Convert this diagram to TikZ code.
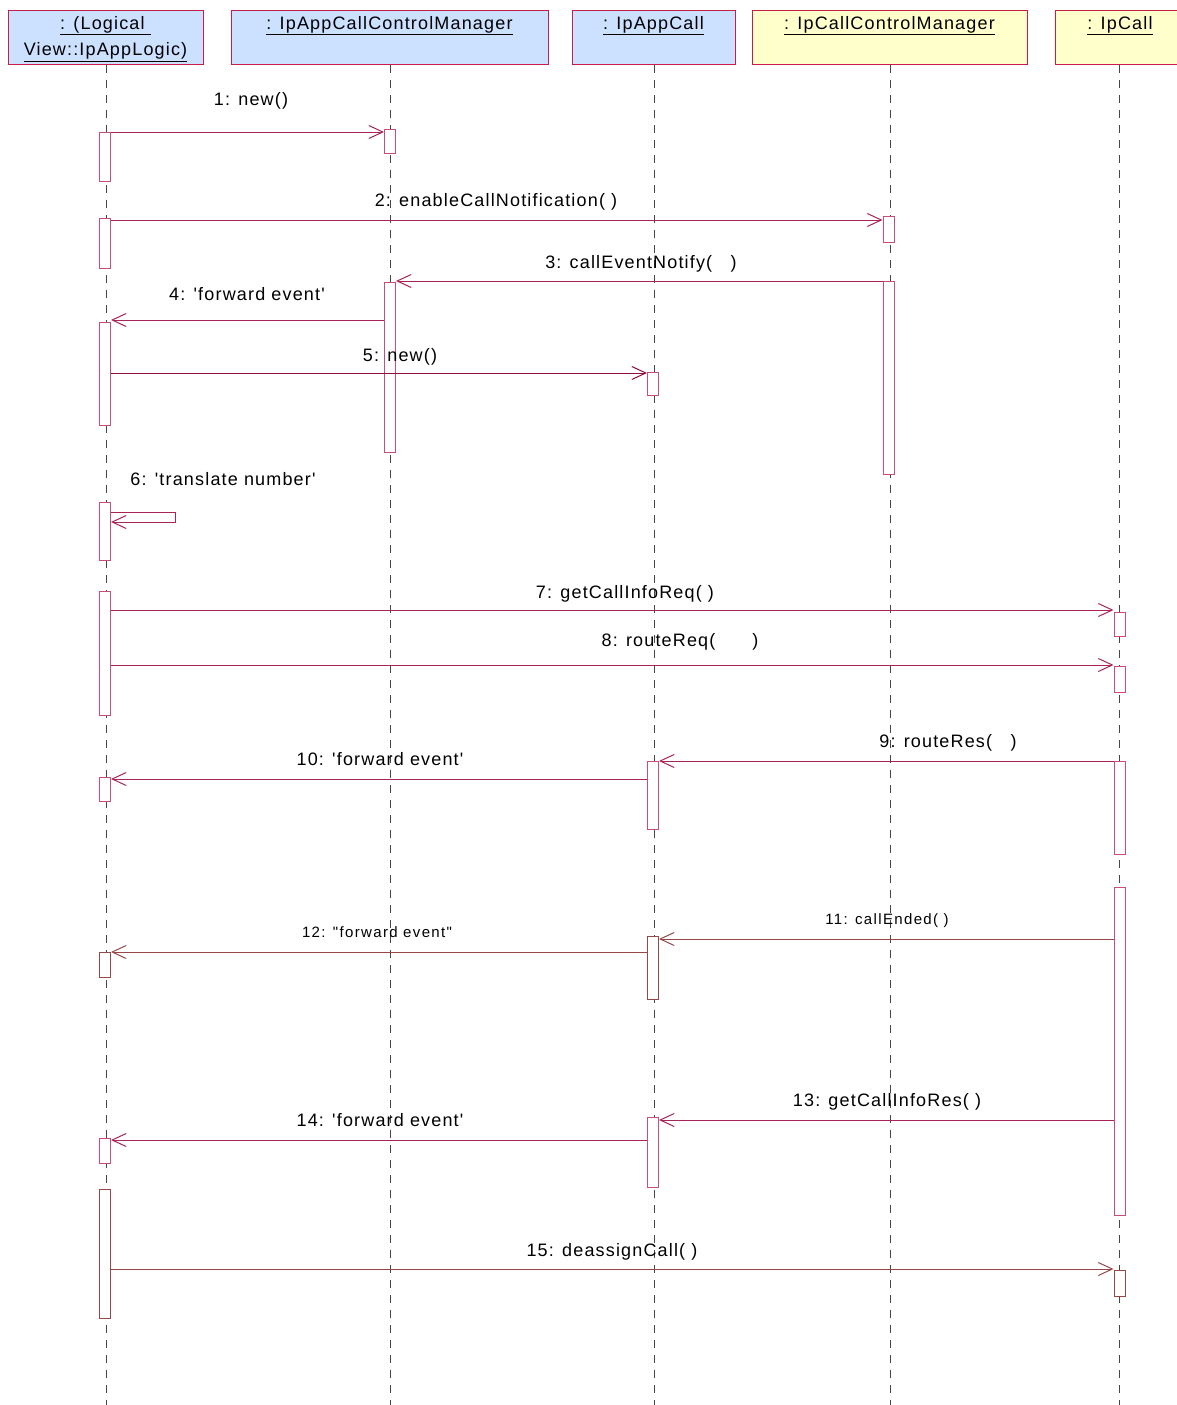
\documentclass[tikz,border=0pt]{standalone}
\usepackage{fontspec}
\setmainfont{Liberation Sans}[LetterSpace=6.5,Ligatures=TeXOff]
\usetikzlibrary{arrows.meta,calc}
\definecolor{msgc}{RGB}{168,36,88}
\definecolor{darkmsg}{RGB}{140,10,60}
\definecolor{actc}{RGB}{198,78,120}
\definecolor{brownc}{RGB}{150,72,72}
\definecolor{hdrline}{RGB}{198,30,70}
\definecolor{hblue}{RGB}{204,224,255}
\definecolor{hyellow}{RGB}{255,255,204}
\definecolor{lifec}{RGB}{70,70,70}
\newcommand\actbox[5][]{\node[act,#1,minimum height={#5-#4}] (#2) at (#3,{(#4+#5)/2}) {};}
\begin{document}
\begin{tikzpicture}[x=1pt,y=-1pt,
  hdr/.style={draw=hdrline,line width=1.1pt,minimum height=54,inner sep=0,anchor=north west},
  hdrtext/.style={font=\fontsize{18}{21}\selectfont,inner sep=0,anchor=base},
  life/.style={draw=lifec,line width=0.9pt,dash pattern=on 8pt off 7pt},
  act/.style={draw=actc,fill=white,line width=1pt,minimum width=11,inner sep=0},
  bact/.style={draw=brownc},
  msg/.style={draw=msgc,line width=1pt,-{Straight Barb[length=14pt,width=13pt,line width=1pt]}},
  bmsg/.style={draw=brownc},
  dmsg/.style={draw=darkmsg,line width=0.9pt},
  lbl/.style={font=\fontsize{18}{21}\selectfont,inner sep=0,anchor=base},
  slbl/.style={font=\fontsize{15}{18}\selectfont\addfontfeature{LetterSpace=9},inner sep=0,anchor=base}]
\useasboundingbox (0,0) rectangle (1176,1405);
% headers
\node[hdr,fill=hblue,minimum width=195] (h1) at (8,10) {};
\node[hdr,fill=hblue,minimum width=317] (h2) at (231,10) {};
\node[hdr,fill=hblue,minimum width=163] (h3) at (572,10) {};
\node[hdr,fill=hyellow,minimum width=275] (h4) at (752,10) {};
\node[hdr,fill=hyellow,minimum width=128] (h5) at (1055,10) {};
\node[hdrtext] (t1a) at (105.5,29.5) {\underline{: (Logical\ }};
\node[hdrtext] (t1b) at (105.5,56) {\underline{View::IpAppLogic)}};
\node[hdrtext] (t2) at (389.5,29.5) {\underline{: IpAppCallControlManager}};
\node[hdrtext] (t3) at (653.5,29.5) {\underline{: IpAppCall}};
\node[hdrtext] (t4) at (889.5,29.5) {\underline{: IpCallControlManager}};
\node[hdrtext] (t5) at (1120,29.5) {\underline{: IpCall}};
% lifelines
\foreach \h in {h1,h2,h3,h4,h5}{
  \coordinate (\h end) at (\h.south |- 0,1405);
  \draw[life] (\h.south) -- (\h end);
}
% activations
\actbox{a1}{105}{132}{181}
\actbox{a2}{105}{218}{268}
\actbox{a3}{105}{322}{425}
\actbox{a4}{105}{502}{560}
\actbox{a5}{105}{591}{715}
\actbox{a6}{105}{777}{801}
\actbox[bact]{a7}{105}{952}{977}
\actbox{a8}{105}{1138}{1163}
\actbox[bact]{a9}{105}{1189}{1318}
\actbox{b1}{390}{129}{153}
\actbox{b2}{390}{282}{452}
\actbox{c1}{653}{372}{395}
\actbox{c2}{653}{761}{829}
\actbox[bact]{c3}{653}{936}{999}
\actbox{c4}{653}{1117}{1187}
\actbox{d1}{888.5}{216}{242}
\actbox{d2}{888.5}{281}{474}
\actbox{e1}{1119.5}{612}{636}
\actbox{e2}{1119.5}{666}{692}
\actbox{e3}{1119.5}{761}{854}
\actbox{e4}{1119.5}{887}{1215}
\actbox[bact]{e5}{1119.5}{1270}{1296}
% messages
\draw[msg] (a1.east |- 0,132) -- (b1.west |- 0,132);
\node[lbl] (m1) at (251,105) {1: new()};
\draw[msg] (a2.east |- 0,220) -- (d1.west |- 0,220);
\node[lbl] (m2) at (496,206) {2: enableCallNotification( )};
\draw[msg] (d2.west |- 0,281) -- (b2.east |- 0,281);
\node[lbl] (m3) at (641,268) {3: callEventNotify(\ \ \ )};
\draw[msg] (b2.west |- 0,320) -- (a3.east |- 0,320);
\node[lbl] (m4) at (247,300) {4: 'forward event'};
\draw[msg,dmsg] (a3.east |- 0,373) -- (c1.west |- 0,373);
\node[lbl] (m5) at (400,361) {5: new()};
\coordinate (s6a) at (175,512);
\coordinate (s6b) at (175,522);
\draw[msg] (a4.east |- s6a) -- (s6a) -- (s6b) -- (a4.east |- s6b);
\node[lbl] (m6) at (223,485) {6: 'translate number'};
\draw[msg] (a5.east |- 0,610) -- (e1.west |- 0,610);
\node[lbl] (m7) at (625,598) {7: getCallInfoReq( )};
\draw[msg] (a5.east |- 0,665) -- (e2.west |- 0,665);
\node[lbl] (m8) at (680,646) {8: routeReq(\ \ \ \ \ \ )};
\draw[msg] (e3.west |- 0,761) -- (c2.east |- 0,761);
\node[lbl] (m9) at (948,747) {9: routeRes(\ \ \ )};
\draw[msg] (c2.west |- 0,779) -- (a6.east |- 0,779);
\node[lbl] (m10) at (380,765) {10: 'forward event'};
\draw[msg,bmsg] (e4.west |- 0,939) -- (c3.east |- 0,939);
\node[slbl] (m11) at (887,924) {11: callEnded( )};
\draw[msg,bmsg] (c3.west |- 0,952) -- (a7.east |- 0,952);
\node[slbl] (m12) at (377,937) {12: "forward event"};
\draw[msg] (e4.west |- 0,1120) -- (c4.east |- 0,1120);
\node[lbl] (m13) at (887,1106) {13: getCallInfoRes( )};
\draw[msg] (c4.west |- 0,1140) -- (a8.east |- 0,1140);
\node[lbl] (m14) at (380,1126) {14: 'forward event'};
\draw[msg,bmsg] (a9.east |- 0,1269) -- (e5.west |- 0,1269);
\node[lbl] (m15) at (612,1256) {15: deassignCall( )};
\end{tikzpicture}
\end{document}
